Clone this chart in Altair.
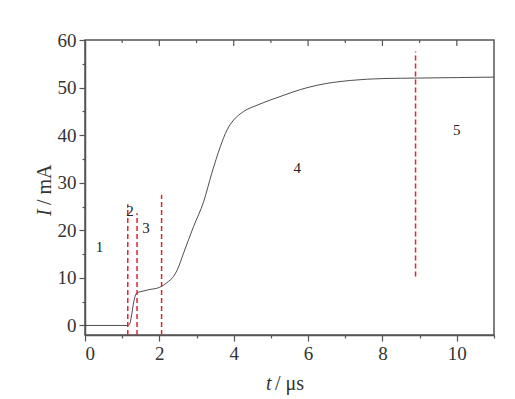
import altair as alt
import pandas as pd

# Current curve
t_curve = [0, 1.0, 1.15, 1.2, 1.25, 1.3, 1.35, 1.4, 1.5, 1.7, 2.0, 2.2, 2.38, 2.5, 2.65,
           2.92, 3.19, 3.41, 3.64, 3.82, 4.0, 4.27, 4.63, 4.99, 5.35, 5.8, 6.25, 7.14, 8.04,
           8.94, 10.0, 11.0]
i_curve = [0, 0, 0, 0.3, 2.0, 4.5, 6.2, 6.9, 7.1, 7.5, 8.0, 9.0, 10.3, 12.0, 15.2,
           20.8, 26.0, 32.0, 37.6, 41.1, 43.2, 45.0, 46.3, 47.4, 48.4, 49.6, 50.5, 51.5, 51.9,
           52.0, 52.1, 52.2]

# Red dashed separators
vline_t = [1.15, 1.40, 2.06, 8.89]
vline_top = [25.5, 23.6, 27.5, 57.6]
vline_bottom = [-2, -2, -2, 10.3]

# Segment labels
seg_labels = ["1", "2", "3", "4", "5"]
seg_t = [0.39, 1.21, 1.64, 5.71, 10.0]
seg_i = [16.5, 24.0, 20.5, 33.1, 41.1]

# Axis ticks
x_ticks = list(range(0, 12))
y_ticks = list(range(0, 61, 5))
top_major = [2, 4, 6, 8, 10]
top_minor = [1, 3, 5, 7, 9]

FONT = "Liberation Serif"
AX = "#555555"
TXT = "#333333"

curve_df = pd.DataFrame({"t": t_curve, "i": i_curve})
vl_df = pd.DataFrame({"t": vline_t, "i": vline_bottom, "top": vline_top})
lab_df = pd.DataFrame({"lab": seg_labels, "t": seg_t, "i": seg_i})

xscale = alt.Scale(domain=[0, 11], nice=False, zero=False)
yscale = alt.Scale(domain=[-2, 60], nice=False, zero=False)

x_axis = alt.Axis(
    values=x_ticks, title=None, grid=False,
    labelExpr="datum.value % 2 == 0 ? datum.label : ''",
    tickSize={"condition": {"test": "datum.value % 2 != 0", "value": 3}, "value": 6},
    labelFont=FONT, labelFontSize=19, labelColor=TXT, labelPadding=3,
    domainColor=AX, domainWidth=1.5, tickColor=AX, tickWidth=1.2,
)
y_axis = alt.Axis(
    values=y_ticks, title=None, grid=False,
    labelExpr="datum.value % 10 == 0 ? datum.label : ''",
    tickSize={"condition": {"test": "datum.value % 10 != 0", "value": 3}, "value": 6},
    labelFont=FONT, labelFontSize=19, labelColor=TXT, labelPadding=3,
    domainColor=AX, domainWidth=1.5, tickColor=AX, tickWidth=1.2,
)

X = alt.X("t:Q", scale=xscale, axis=x_axis)
Y = alt.Y("i:Q", scale=yscale, axis=y_axis)

curve = alt.Chart(curve_df).mark_line(color="#3a3a3a", strokeWidth=0.9, interpolate="monotone").encode(
    x=X, y=Y,
)

vlines = alt.Chart(vl_df).mark_rule(color="#e8202a", strokeWidth=1.5, strokeDash=[5, 3]).encode(
    x=X, y=Y, y2="top:Q",
)

labels = alt.Chart(lab_df).mark_text(font=FONT, fontSize=15, color="#222222", baseline="middle").encode(
    x=X, y=Y, text="lab:N",
)

top_maj = alt.Chart(pd.DataFrame({"t": top_major})).mark_rule(color=AX, strokeWidth=1.2).encode(
    x=X, y=alt.value(0), y2=alt.value(6))
top_min = alt.Chart(pd.DataFrame({"t": top_minor})).mark_rule(color=AX, strokeWidth=1.2).encode(
    x=X, y=alt.value(0), y2=alt.value(3))

tdf = pd.DataFrame({"a": [0]})
xt1 = alt.Chart(tdf).mark_text(font=FONT, fontSize=20, fontStyle="italic", color=TXT, align="left").encode(
    x=alt.value(181), y=alt.value(344), text=alt.value("t"))
xt2 = alt.Chart(tdf).mark_text(font=FONT, fontSize=20, color=TXT, align="left").encode(
    x=alt.value(190), y=alt.value(344), text=alt.value("/ μs"))
yt1 = alt.Chart(tdf).mark_text(font=FONT, fontSize=20, fontStyle="italic", color=TXT, align="left", angle=270).encode(
    x=alt.value(-40), y=alt.value(176), text=alt.value("I"))
yt2 = alt.Chart(tdf).mark_text(font=FONT, fontSize=20, color=TXT, align="left", angle=270).encode(
    x=alt.value(-40), y=alt.value(165), text=alt.value("/ mA"))

chart = alt.layer(curve, vlines, labels, top_maj, top_min, xt1, xt2, yt1, yt2).properties(
    width=409, height=295,
    autosize=alt.AutoSizeParams(type="none"),
    padding={"left": 77, "top": 32, "right": 13, "bottom": 62},
    background="white",
).configure_view(stroke=AX, strokeWidth=1.5)

chart.save("out.html", embed_options={"renderer": "svg", "actions": False})
